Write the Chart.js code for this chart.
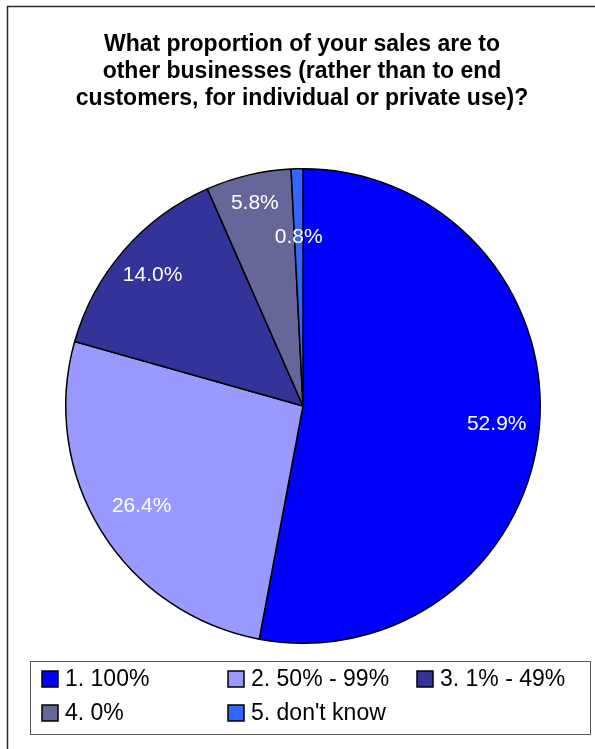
<!DOCTYPE html>
<html>
<head>
<meta charset="utf-8">
<script src="https://cdn.jsdelivr.net/npm/chart.js@4/dist/chart.umd.min.js"></script>
<style>
html,body{margin:0;padding:0;background:#fff;}
#wrap{position:relative;width:595px;height:749px;}
canvas{display:block;}
</style>
</head>
<body>
<div id="wrap"><canvas id="c" width="595" height="749"></canvas></div>
<script>
const titleLines = [
  "What proportion of your sales are to",
  "other businesses (rather than to end",
  "customers, for individual or private use)?"
];
const categories = ["1. 100%", "2. 50% - 99%", "3. 1% - 49%", "4. 0%", "5. don't know"];
const values = [52.9, 26.4, 14.0, 5.8, 0.8];
const sliceColors = ["#0000FF", "#9999FF", "#333399", "#666699", "#3366FF"];
const labelRadiusFrac = [0.82, 0.80, 0.84, 0.88, 0.71];

const FONT = "'Liberation Sans', Arial, sans-serif";

const framePlugin = {
  id: 'frame',
  beforeDraw(chart) {
    const ctx = chart.ctx;
    ctx.save();
    ctx.fillStyle = '#fff';
    ctx.fillRect(0, 0, chart.width, chart.height);
    ctx.strokeStyle = '#2a2a2a';
    ctx.lineWidth = 1.5;
    ctx.beginPath();
    ctx.moveTo(7.5, 760);
    ctx.lineTo(7.5, 6.5);
    ctx.lineTo(610, 6.5);
    ctx.stroke();
    // title
    ctx.fillStyle = '#000';
    ctx.font = "bold 23px " + FONT;
    ctx.textAlign = 'center';
    ctx.textBaseline = 'middle';
    titleLines.forEach((t, i) => ctx.fillText(t, 302, 45 + i * 27));
    ctx.restore();
  },
  afterDraw(chart) {
    const ctx = chart.ctx;
    ctx.save();
    // value labels
    const meta = chart.getDatasetMeta(0);
    ctx.fillStyle = '#fff';
    ctx.font = "21px " + FONT;
    ctx.textAlign = 'center';
    ctx.textBaseline = 'middle';
    meta.data.forEach((arc, i) => {
      const p = arc.getProps(['x', 'y', 'startAngle', 'endAngle', 'outerRadius'], true);
      const mid = (p.startAngle + p.endAngle) / 2;
      const r = p.outerRadius * labelRadiusFrac[i];
      ctx.fillText(values[i].toFixed(1) + '%', p.x + Math.cos(mid) * r, p.y + Math.sin(mid) * r);
    });
    // legend box
    ctx.strokeStyle = '#555';
    ctx.lineWidth = 1;
    ctx.strokeRect(30.5, 661.5, 560, 73);
    const colX = [42, 228, 417];
    const rowY = [679, 713];
    ctx.font = "23px " + FONT;
    ctx.textAlign = 'left';
    categories.forEach((lab, i) => {
      const x = colX[i % 3];
      const y = rowY[Math.floor(i / 3)];
      ctx.fillStyle = sliceColors[i];
      ctx.fillRect(x, y - 8, 16, 16);
      ctx.strokeStyle = '#000';
      ctx.lineWidth = 1.5;
      ctx.strokeRect(x, y - 8, 16, 16);
      ctx.fillStyle = '#000';
      ctx.fillText(lab, x + 23, y + 1);
    });
    ctx.restore();
  }
};

new Chart(document.getElementById('c'), {
  type: 'pie',
  data: {
    labels: categories,
    datasets: [{
      data: values,
      backgroundColor: sliceColors,
      borderColor: '#000',
      borderWidth: 1.5,
      hoverOffset: 0
    }]
  },
  options: {
    responsive: false,
    animation: false,
    devicePixelRatio: 1,
    layout: { padding: { left: 65, right: 54, top: 168, bottom: 105 } },
    plugins: {
      legend: { display: false },
      title: { display: false },
      tooltip: { enabled: false }
    },
    events: []
  },
  plugins: [framePlugin]
});
</script>
</body>
</html>
